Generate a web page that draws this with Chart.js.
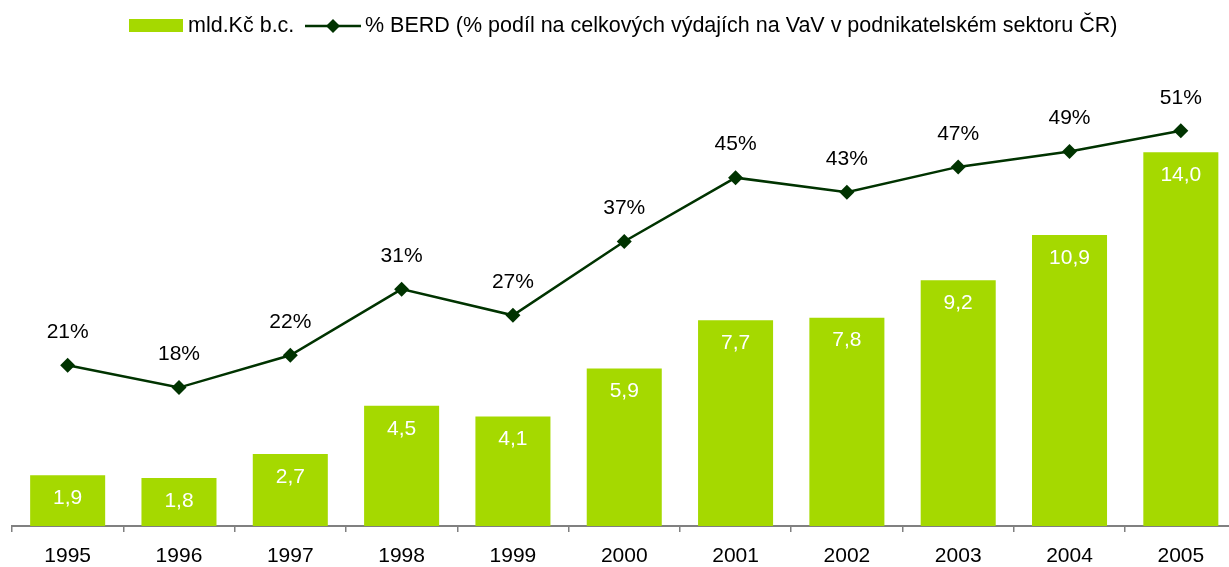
<!DOCTYPE html>
<html>
<head>
<meta charset="utf-8">
<script src="https://cdn.jsdelivr.net/npm/chart.js@4/dist/chart.umd.min.js"></script>
<style>
  html, body { margin: 0; padding: 0; background: #fff; overflow: hidden; width: 1229px; height: 567px; }
  #wrap { position: absolute; left: 0; top: 0; width: 1244px; height: 567px; }
  #legend { position: absolute; left: 0; top: 0; width: 1229px; height: 50px; font-family: "Liberation Sans", Arial, sans-serif; font-size: 21.5px; color: #000; }
  .item { position: absolute; top: 13px; height: 24px; line-height: 24px; white-space: nowrap; }
  .box { position: absolute; left: 129px; top: 19px; width: 54px; height: 13px; background: #a5d900; }
  .sym { position: absolute; left: 305px; top: 18px; }
</style>
</head>
<body>
<div id="wrap"><canvas id="c" width="1244" height="567"></canvas></div>
<div id="legend">
  <div class="box"></div>
  <div class="item" id="l1" style="left:188px;">mld.Kč b.c.</div>
  <svg class="sym" width="56" height="16" viewBox="0 0 56 16">
    <line x1="0" y1="8" x2="56" y2="8" stroke="#003300" stroke-width="2.5"/>
    <polygon points="28,1 35,8 28,15 21,8" fill="#003300"/>
  </svg>
  <div class="item" id="l2" style="left:365px;">% BERD (% podíl na celkových výdajích na VaV v podnikatelském sektoru ČR)</div>
</div>
<script>
const years = ["1995","1996","1997","1998","1999","2000","2001","2002","2003","2004","2005"];
const spending = [1.9, 1.8, 2.7, 4.5, 4.1, 5.9, 7.7, 7.8, 9.2, 10.9, 14.0];
const berdShare = [20.9, 18.0, 22.2, 30.8, 27.4, 37.0, 45.3, 43.4, 46.7, 48.7, 51.4];
const berdLabels = ["21%","18%","22%","31%","27%","37%","45%","43%","47%","49%","51%"];

const FONT = '"Liberation Sans", Arial, sans-serif';

const labelPlugin = {
  id: 'valueLabels',
  afterDatasetsDraw(chart) {
    const ctx = chart.ctx;
    ctx.save();
    ctx.font = '21px ' + FONT;
    ctx.textAlign = 'center';
    ctx.textBaseline = 'middle';
    const barMeta = chart.getDatasetMeta(1);
    ctx.fillStyle = '#ffffff';
    barMeta.data.forEach((el, i) => {
      ctx.fillText(spending[i].toFixed(1).replace('.', ','), el.x, el.y + 23);
    });
    const lineMeta = chart.getDatasetMeta(0);
    ctx.fillStyle = '#000000';
    lineMeta.data.forEach((el, i) => {
      ctx.fillText(berdLabels[i], el.x, el.y - 33);
    });
    ctx.restore();
  }
};

new Chart(document.getElementById('c'), {
  data: {
    labels: years,
    datasets: [
      {
        type: 'line',
        label: '% BERD (% podíl na celkových výdajích na VaV v podnikatelském sektoru ČR)',
        data: berdShare,
        yAxisID: 'yLine',
        borderColor: '#003300',
        backgroundColor: '#003300',
        borderWidth: 2.5,
        pointStyle: 'rectRot',
        pointRadius: 7.5,
        pointBorderWidth: 0,
        pointBackgroundColor: '#003300',
        tension: 0,
        order: 0
      },
      {
        type: 'bar',
        label: 'mld.Kč b.c.',
        data: spending,
        yAxisID: 'yBar',
        backgroundColor: '#a5d900',
        borderWidth: 0,
        barPercentage: 0.674,
        categoryPercentage: 1.0,
        order: 1
      }
    ]
  },
  options: {
    responsive: false,
    animation: false,
    devicePixelRatio: 1,
    layout: { padding: { left: 12, right: 3, top: 60, bottom: 0 } },
    plugins: { legend: { display: false }, tooltip: { enabled: false } },
    scales: {
      x: {
        offset: true,
        grid: { offset: true, drawOnChartArea: false, drawTicks: true, tickLength: 6, color: '#808080', lineWidth: 1.5 },
        border: { display: true, color: '#808080', width: 2 },
        ticks: { color: '#000', font: { family: FONT, size: 21 }, padding: 12, maxRotation: 0 },
        afterFit: (s) => { s.height = 41; }
      },
      yBar: { display: false, min: 0, max: 17.45 },
      yLine: { display: false, min: 0, max: 60.6 }
    }
  },
  plugins: [labelPlugin]
});
</script>
</body>
</html>
